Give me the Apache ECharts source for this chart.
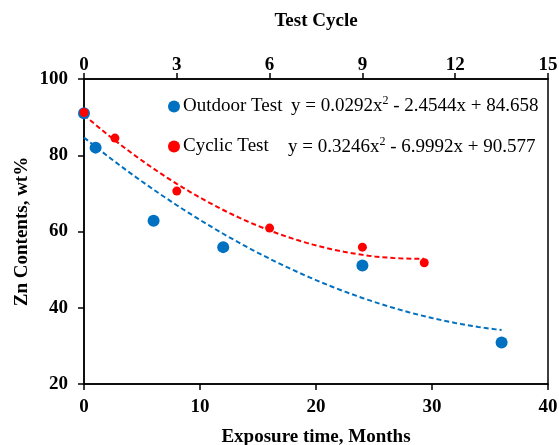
<!DOCTYPE html>
<html><head><meta charset="utf-8">
<script src="https://cdn.jsdelivr.net/npm/echarts@6/dist/echarts.min.js"></script>
<style>html,body{margin:0;padding:0;background:#fff}#c{width:559px;height:445px}</style>
</head><body><div id="c"></div>
<script>
// Outdoor test: x = exposure time (months)
const outdoorMonths = [0, 1, 6, 12, 24, 36];
const outdoorZn = [91, 82, 62.8, 55.9, 51.1, 30.9];
// Cyclic test: x = test cycle
const cyclicCycles = [0, 1, 3, 6, 9, 11];
const cyclicZn = [91.2, 84.5, 70.6, 60.9, 55.9, 51.8];
// Trendline coefficients (a, b, c) for y = a x^2 + b x + c, as printed on the chart
const outdoorFit = [0.0292, -2.4544, 84.658];
const cyclicFit = [0.3246, -6.9992, 90.577];
const outdoorFitRange = [0, 36];
const cyclicFitRange = [0, 11];
const bottomTicks = [0, 40, 10];
const topTicks = [0, 15, 3];
const yTicks = [20, 100, 20];
const eqOutdoor = 'y = 0.0292x{sup|2} - 2.4544x + 84.658';
const eqCyclic = 'y = 0.3246x{sup|2} - 6.9992x + 90.577';

function curve(coef, range, step) {
  const pts = [];
  for (let x = range[0]; x <= range[1] + 1e-9; x += step) {
    pts.push([x, coef[0] * x * x + coef[1] * x + coef[2]]);
  }
  return pts;
}

const serif = '"Liberation Serif", "Times New Roman", serif';
const BLUE = '#0070C0', RED = '#FF0000';
const axisLbl = {fontFamily: serif, fontWeight: 'bold', fontSize: 19, color: '#000'};
const axisNm = {fontFamily: serif, fontWeight: 'bold', fontSize: 19, color: '#000'};
const line = {show: true, onZero: false, lineStyle: {color: '#000', width: 1.5}};
const tick = {show: true, length: 6, lineStyle: {color: '#000', width: 1.5}};
const eqRich = {sup: {fontFamily: serif, fontSize: 12, verticalAlign: 'top', lineHeight: 22, padding: [0, 0, 0, 0]}};

const chart = echarts.init(document.getElementById('c'));
chart.setOption({
  animation: false,
  grid: {left: 84, right: 11, top: 79, bottom: 61, show: true, borderColor: '#000', borderWidth: 1.5,
         backgroundColor: 'transparent', containLabel: false, outerBoundsMode: 'none'},
  xAxis: [
    {type: 'value', position: 'bottom', min: bottomTicks[0], max: bottomTicks[1], interval: bottomTicks[2],
     axisLine: line, axisTick: tick,
     splitLine: {show: false}, axisLabel: Object.assign({margin: 14}, axisLbl),
     name: 'Exposure time, Months', nameLocation: 'middle', nameGap: 44, nameTextStyle: axisNm},
    {type: 'value', position: 'top', min: topTicks[0], max: topTicks[1], interval: topTicks[2],
     axisLine: line, axisTick: tick,
     splitLine: {show: false}, axisLabel: Object.assign({margin: 4}, axisLbl),
     name: 'Test Cycle', nameLocation: 'middle', nameGap: 48, nameTextStyle: axisNm}
  ],
  yAxis: [
    {type: 'value', min: yTicks[0], max: yTicks[1], interval: yTicks[2],
     axisLine: line, axisTick: tick,
     splitLine: {show: false}, axisLabel: Object.assign({margin: 16}, axisLbl),
     name: 'Zn Contents, wt%', nameLocation: 'middle', nameGap: 52, nameRotate: 90, nameMoveOverlap: false,
     nameTextStyle: axisNm}
  ],
  legend: {
    orient: 'vertical', left: 163, top: 92, itemGap: 21, itemWidth: 12, itemHeight: 12,
    icon: 'circle', data: ['Outdoor Test', 'Cyclic Test'],
    textStyle: {fontFamily: serif, fontSize: 19, color: '#000', padding: [0, 0, 0, -2]}
  },
  graphic: [
    {type: 'text', left: 291, top: 95, style: {text: eqOutdoor, font: '19px ' + serif, fill: '#000', rich: eqRich}},
    {type: 'text', left: 288, top: 136, style: {text: eqCyclic, font: '19px ' + serif, fill: '#000', rich: eqRich}}
  ],
  series: [
    {name: 'Outdoor Test', type: 'scatter', xAxisIndex: 0, symbolSize: 12, itemStyle: {color: BLUE, opacity: 1},
     data: outdoorMonths.map((x, i) => [x, outdoorZn[i]]), z: 5},
    {name: 'Cyclic Test', type: 'scatter', xAxisIndex: 1, symbolSize: 9, itemStyle: {color: RED, opacity: 1},
     data: cyclicCycles.map((x, i) => [x, cyclicZn[i]]), z: 6},
    {name: 'Outdoor fit', type: 'line', xAxisIndex: 0, showSymbol: false, symbol: 'none', smooth: false,
     lineStyle: {color: BLUE, width: 2, type: [5, 3]}, data: curve(outdoorFit, outdoorFitRange, 0.5), z: 3},
    {name: 'Cyclic fit', type: 'line', xAxisIndex: 1, showSymbol: false, symbol: 'none', smooth: false,
     lineStyle: {color: RED, width: 2, type: [5, 3]}, data: curve(cyclicFit, cyclicFitRange, 0.2), z: 3}
  ]
});
</script></body></html>
